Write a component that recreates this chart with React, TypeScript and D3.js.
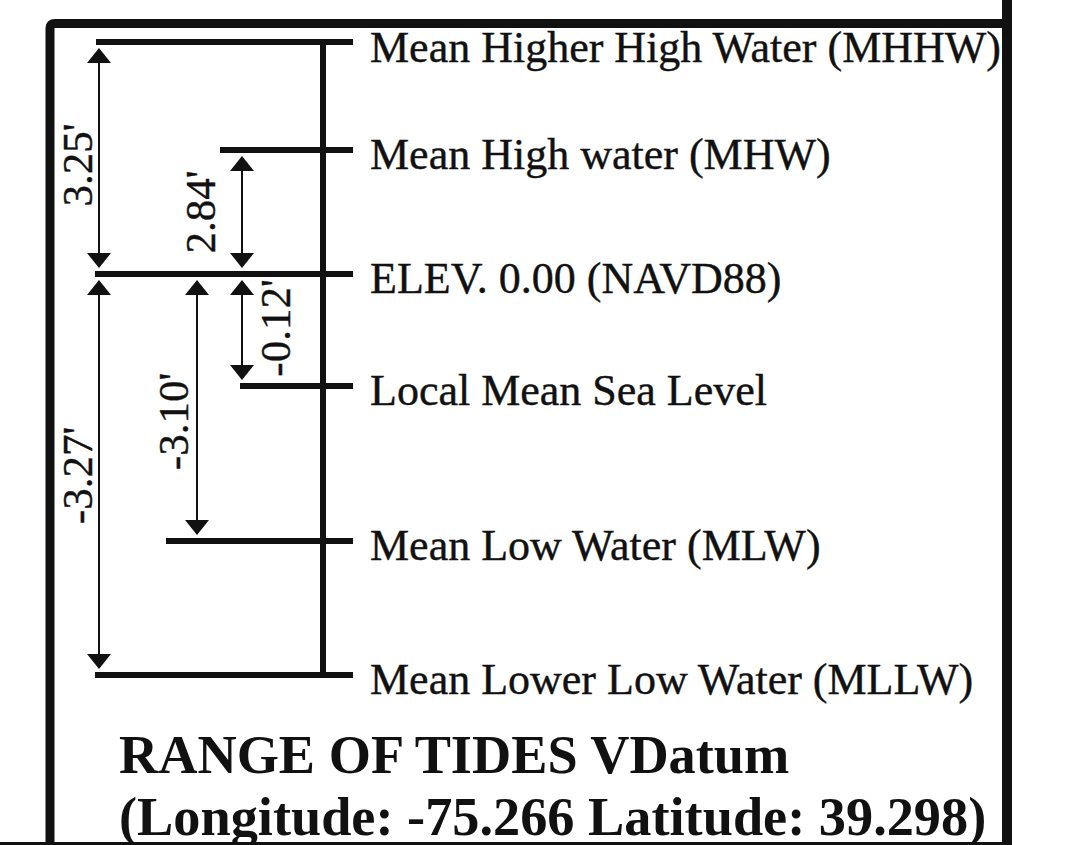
import React from "react";
import * as d3 from "d3";

// ---- data ----
const LEVEL_NAMES = [
  "Mean Higher High Water (MHHW)",
  "Mean High water (MHW)",
  "ELEV. 0.00 (NAVD88)",
  "Local Mean Sea Level",
  "Mean Low Water (MLW)",
  "Mean Lower Low Water (MLLW)",
];
const LEVEL_VALUES = [3.25, 2.84, 0.0, -0.12, -3.1, -3.27];

const DIM_LABELS = ["3.25'", "2.84'", "-0.12'", "-3.10'", "-3.27'"];
const DIM_FROM = [0, 1, 2, 2, 2];
const DIM_TO = [2, 2, 3, 4, 5];
const DIM_COLUMN = [0, 2, 2, 1, 0];

const TITLE_LINES = ["RANGE OF TIDES VDatum", "(Longitude: -75.266 Latitude: 39.298)"];

// ---- layout (schematic, not to scale) ----
const W = 1072;
const H = 845;
const ROW_Y = [42, 150, 274, 386, 541, 675];
const COLUMN_X = [99, 197, 242];
const LEVEL_LINE_START = [96, 220, 95, 240, 166, 95];
const LEVEL_LINE_END = 353;
const MAIN_X = 323;
const LABEL_X = 370;
// per-dimension label placement: baseline offset from arrow column, vertical nudge
const DIM_LABEL_DX = [-7, -27, 48, -9, -7];
const DIM_LABEL_DY = [7, 0, -2, 14, 1];

const FONT = "'Liberation Serif', 'Times New Roman', Times, serif";
const INK = "#111";

export default function App() {
  const y = d3.scaleLinear().domain(LEVEL_VALUES).range(ROW_Y);
  const colX = (i: number) => COLUMN_X[i];

  const headLen = 15;
  const headHalf = 12;
  const gap = 6;

  const arrowHead = (x: number, tipY: number, dir: 1 | -1) => {
    const baseY = tipY - dir * headLen;
    const p = d3.path();
    p.moveTo(x, tipY);
    p.lineTo(x - headHalf, baseY);
    p.lineTo(x + headHalf, baseY);
    p.closePath();
    return p.toString();
  };

  return (
    <svg
      width={W}
      height={H}
      viewBox={`0 0 ${W} ${H}`}
      style={{ position: "absolute", left: 0, top: 0, background: "#fff" }}
    >
      <rect x={0} y={0} width={W} height={H} fill="#fff" />

      {/* main vertical line */}
      <line
        x1={MAIN_X}
        x2={MAIN_X}
        y1={y(LEVEL_VALUES[0])}
        y2={y(LEVEL_VALUES[LEVEL_VALUES.length - 1])}
        stroke={INK}
        strokeWidth={6}
      />

      {/* level lines + labels */}
      {LEVEL_VALUES.map((v, i) => (
        <g key={LEVEL_NAMES[i]}>
          <line
            x1={LEVEL_LINE_START[i]}
            x2={LEVEL_LINE_END}
            y1={y(v)}
            y2={y(v)}
            stroke={INK}
            strokeWidth={6}
          />
          <text
            x={LABEL_X}
            y={y(v) + (i === 0 ? 20 : 19)}
            fontFamily={FONT}
            fontSize={44}
            fill={INK}
            stroke={INK}
            strokeWidth={0.4}
          >
            {LEVEL_NAMES[i]}
          </text>
        </g>
      ))}

      {/* dimension arrows */}
      {DIM_LABELS.map((lab, k) => {
        const x = colX(DIM_COLUMN[k]);
        const y1 = y(LEVEL_VALUES[DIM_FROM[k]]);
        const y2 = y(LEVEL_VALUES[DIM_TO[k]]);
        const top = Math.min(y1, y2) + gap;
        const bot = Math.max(y1, y2) - gap;
        const mid = (y1 + y2) / 2 + DIM_LABEL_DY[k];
        const lx = x + DIM_LABEL_DX[k];
        return (
          <g key={lab}>
            <line x1={x} x2={x} y1={top + 4} y2={bot - 4} stroke={INK} strokeWidth={2} />
            <path d={arrowHead(x, top, -1)} fill={INK} />
            <path d={arrowHead(x, bot, 1)} fill={INK} />
            <text
              transform={`translate(${lx},${mid}) rotate(-90)`}
              textAnchor="middle"
              fontFamily={FONT}
              fontSize={43}
              fill={INK}
              stroke={INK}
              strokeWidth={0.4}
            >
              {lab}
            </text>
          </g>
        );
      })}

      {/* title */}
      {TITLE_LINES.map((t, i) => (
        <text
          key={t}
          x={119}
          y={773 + i * 62}
          fontFamily={FONT}
          fontWeight="bold"
          fontSize={54.3}
          fill={INK}
        >
          {t}
        </text>
      ))}

      {/* frame */}
      <path
        d="M50,845 L50,28 Q50,23.5 55,23.5 L1007,23.5"
        fill="none"
        stroke={INK}
        strokeWidth={9}
      />
      <line x1={1007} x2={1007} y1={0} y2={845} stroke={INK} strokeWidth={10} />
      <line x1={0} x2={1007} y1={843.5} y2={843.5} stroke={INK} strokeWidth={3} />
    </svg>
  );
}
